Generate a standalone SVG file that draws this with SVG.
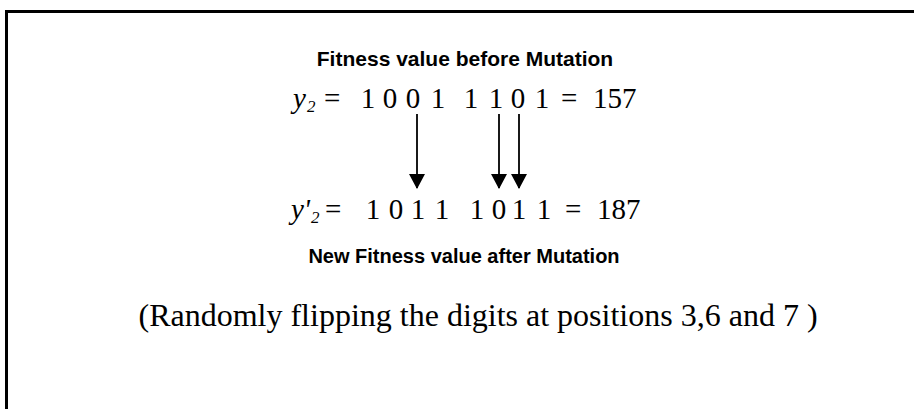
<svg xmlns="http://www.w3.org/2000/svg" width="914" height="409" viewBox="0 0 914 409">
<style>
.lbl{font-family:"Liberation Sans",Arial,sans-serif;font-weight:bold;font-size:21px;fill:#000}
.lbl2{font-size:20px}
.num{font-family:"Liberation Serif","Times New Roman",serif;font-size:29px;fill:#000}
.var{font-family:"Liberation Serif","Times New Roman",serif;font-style:italic;fill:#000}
.note{font-family:"Liberation Serif","Times New Roman",serif;font-size:32px;fill:#000}
.conn{stroke:#000;stroke-width:1.8;fill:none}
</style>
<defs>
<marker id="ah" viewBox="0 0 15 16" refX="14" refY="8" markerWidth="15" markerHeight="16" markerUnits="userSpaceOnUse" orient="auto">
<path d="M0,0 L15,8 L0,16 Z" fill="#000"/>
</marker>
</defs>
<rect width="914" height="409" fill="#fff"/>
<g id="frame">
<line x1="5" y1="11.5" x2="914" y2="11.5" stroke="#000" stroke-width="3"/>
<line x1="6.5" y1="10" x2="6.5" y2="409" stroke="#000" stroke-width="3"/>
</g>
<g id="label-before">
<text class="lbl" x="465" y="66" text-anchor="middle">Fitness value before Mutation</text>
</g>
<g id="row-before">
<text class="var" x="293" y="108" font-size="29">y</text>
<text class="var" x="307" y="112" font-size="17">2</text>
<text class="num" x="324" y="108">=</text>
<text class="num" y="108" text-anchor="middle"><tspan x="368">1</tspan><tspan x="390">0</tspan><tspan x="413">0</tspan><tspan x="438">1</tspan><tspan x="471">1</tspan><tspan x="496">1</tspan><tspan x="518">0</tspan><tspan x="542">1</tspan></text>
<text class="num" x="561" y="108">=</text>
<text class="num" x="593" y="108">157</text>
</g>
<g id="connectors">
<line class="conn" x1="417" y1="114" x2="417" y2="188" marker-end="url(#ah)"/>
<line class="conn" x1="499" y1="114" x2="499" y2="188" marker-end="url(#ah)"/>
<line class="conn" x1="519" y1="114" x2="519" y2="188" marker-end="url(#ah)"/>
</g>
<g id="row-after">
<text class="var" x="291" y="219" font-size="29">y'</text>
<text class="var" x="311" y="223" font-size="17">2</text>
<text class="num" x="325" y="219">=</text>
<text class="num" y="219" text-anchor="middle"><tspan x="373">1</tspan><tspan x="396">0</tspan><tspan x="418">1</tspan><tspan x="442">1</tspan><tspan x="477">1</tspan><tspan x="499">0</tspan><tspan x="519">1</tspan><tspan x="544">1</tspan></text>
<text class="num" x="565" y="219">=</text>
<text class="num" x="597" y="219">187</text>
</g>
<g id="label-after">
<text class="lbl lbl2" x="464" y="263" text-anchor="middle">New Fitness value after Mutation</text>
</g>
<g id="note">
<text class="note" x="478" y="326" text-anchor="middle">(Randomly flipping the digits at positions 3,6 and 7 )</text>
</g>
</svg>
